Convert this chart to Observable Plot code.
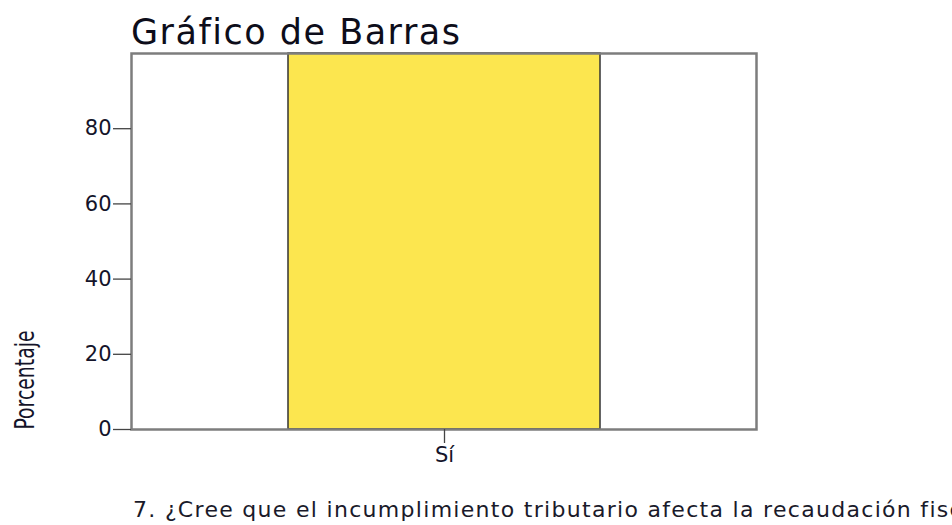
<!DOCTYPE html>
<html>
<head>
<meta charset="utf-8">
<script src="https://cdn.jsdelivr.net/npm/d3@7"></script>
<script src="https://cdn.jsdelivr.net/npm/@observablehq/plot@0.6"></script>
<style>
  html, body { margin: 0; padding: 0; background: #fff; }
  #wrap { position: relative; width: 952px; height: 525px; overflow: hidden; background: #fff; }
  #title { position: absolute; left: 131px; top: 15px; font-family: "DejaVu Sans", Verdana, sans-serif; font-size: 35px; line-height: 35px; letter-spacing: 1.5px; color: #0d0d1a; white-space: nowrap; }
  #chart { position: absolute; left: 0; top: 48px; }
  #caption { position: absolute; left: 133px; top: 499px; font-family: "DejaVu Sans", Verdana, sans-serif; font-size: 22px; line-height: 22px; letter-spacing: 1.3px; color: #1a1a2a; white-space: nowrap; }
</style>
</head>
<body>
<div id="wrap">
  <div id="title"></div>
  <div id="chart"></div>
  <div id="caption"></div>
</div>
<script>
const titleText = "Gráfico de Barras";
const yLabel = "Porcentaje";
const captionText = "7. ¿Cree que el incumplimiento tributario afecta la recaudación fiscal?";
const categories = ["Sí"];
const percentages = [100];
const yTicks = [0, 20, 40, 60, 80];

const data = categories.map((c, i) => ({cat: c, pct: percentages[i]}));

document.getElementById("title").textContent = titleText;
document.getElementById("caption").textContent = captionText;

const chart = Plot.plot({
  width: 952,
  height: 426,
  marginTop: 5,
  marginLeft: 131,
  marginRight: 196,
  marginBottom: 45,
  style: {fontFamily: "DejaVu Sans, Verdana, sans-serif", fontSize: "21px", color: "#14142a", background: "white", overflow: "visible"},
  x: {domain: categories, paddingInner: 0, paddingOuter: 0.5, label: null},
  y: {domain: [0, 100], label: null},
  marks: [
    Plot.barY(data, {x: "cat", y: "pct", fill: "#FCE64F", stroke: "#333", strokeWidth: 1.5}),
    Plot.frame({stroke: "#7d7d7d", strokeWidth: 2.5}),
    Plot.axisY(yTicks, {tickSize: 18, tickPadding: 2, stroke: "#444", strokeWidth: 1.3, fontSize: 21, label: null}),
    Plot.axisX(categories, {tickSize: 14, tickPadding: 4, stroke: "#444", strokeWidth: 1.3, fontSize: 21, label: null}),
    Plot.text([yLabel], {frameAnchor: "bottom-left", rotate: -90, textAnchor: "start", lineAnchor: "middle", dx: -106, dy: 0, fontSize: 26, fontFamily: "Liberation Sans Narrow, DejaVu Sans Condensed, sans-serif", fill: "#14142a"})
  ]
});
document.getElementById("chart").appendChild(chart);

d3.select(chart).selectAll("text").filter(function() { return this.textContent === yLabel; })
  .attr("textLength", 99).attr("lengthAdjust", "spacingAndGlyphs");
</script>
</body>
</html>
